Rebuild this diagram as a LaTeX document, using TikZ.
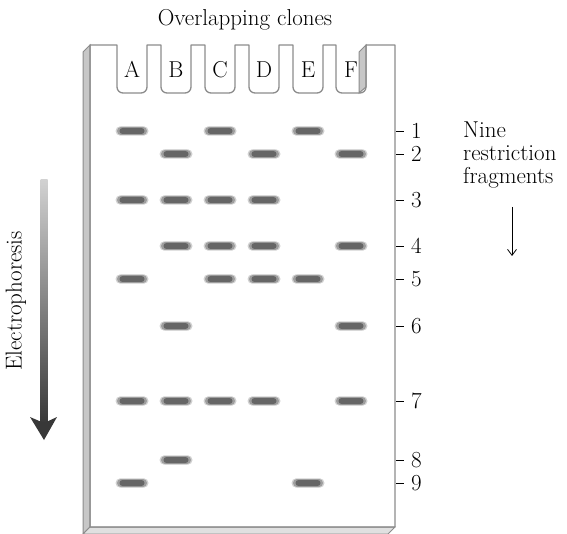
\documentclass[tikz,border=0pt]{standalone}
\usetikzlibrary{arrows.meta}
\tikzset{
  lbl/.style={font=\fontsize{23}{23}\selectfont, inner sep=0pt},
  gelline/.style={draw=black!45, line width=1.3pt},
  sidestrip/.style={fill=black!22, draw=black!45, line width=1pt},
  botstrip/.style={fill=black!12, draw=black!45, line width=1pt},
  band/.pic={
    \fill[black!18, rounded corners=4.7pt] (-16.5,-4.7) rectangle (16.5,4.7);
    \fill[black!38, rounded corners=4pt] (-15,-4) rectangle (15,4);
    \fill[black!60, rounded corners=3pt] (-12.5,-3) rectangle (12.5,3);
  }
}
\begin{document}
\begin{tikzpicture}[x=1pt,y=-1pt]
\useasboundingbox (0,0) rectangle (567,534);
% side strips
\draw[sidestrip] (83,52) -- (90,45) -- (90,527) -- (83,534) -- cycle;
\draw[botstrip] (90,527) -- (395,527) -- (388,534) -- (83,534) -- cycle;
\draw[sidestrip] (359,52) -- (366,45) -- (366,87) -- (359,93) -- cycle;
% gel front face
\draw[gelline, line join=round] (90,527) -- (90,45)
  \foreach \c in {132,176,220,264,308,351} {
    -- (\c-15,45) -- (\c-15,87) arc[start angle=180, end angle=90, radius=6]
    -- (\c+9,93) arc[start angle=90, end angle=0, radius=6] -- (\c+15,45)
  }
  -- (395,45) -- (395,527) -- cycle;
% lane letters
\foreach \c/\l in {132/A,176/B,220/C,264/D,308/E,351/F}
  \node[lbl, anchor=base] (lane\l) at (\c,78) {\l};
% title
\node[lbl, anchor=base] (title) at (245,26) {Overlapping clones};
% bands
\foreach \x/\y in {
  132/131,132/200,132/279,132/401,132/483,
  176/154,176/200,176/246,176/326,176/401,176/460,
  220/131,220/200,220/246,220/279,220/401,
  264/154,264/200,264/246,264/279,264/401,
  308/131,308/279,308/483,
  351/154,351/246,351/326,351/401}
  \pic at (\x,\y) {band};
% ticks and fragment numbers
\foreach \i/\y in {1/131,2/154,3/200,4/246,5/279,6/326,7/401,8/460,9/483} {
  \node[lbl, anchor=west] (n\i) at (411,\y) {\i};
  \draw[black, line width=0.8pt] (396,\y) -- (404,\y);
}
% side label
\node[lbl, anchor=base west] (nine) at (463,138) {Nine};
\node[lbl, anchor=base west] (restr) at (463,161) {restriction};
\node[lbl, anchor=base west] (frag) at (463,184) {fragments};
\coordinate (fa) at (512,207);
\coordinate (fb) at (512,256);
\draw[black, line width=0.8pt, -{Straight Barb[length=6pt,width=9pt]}] (fa) -- (fb);
% electrophoresis arrow
\shade[top color=black!18, bottom color=black!78] (40.5,180) rectangle (47.5,424);
\fill[black!78] (30,417) -- (44,423) -- (57,417) -- (44,440) -- cycle;
\node[lbl, rotate=90] (elec) at (16,301) {Electrophoresis};
\end{tikzpicture}
\end{document}
